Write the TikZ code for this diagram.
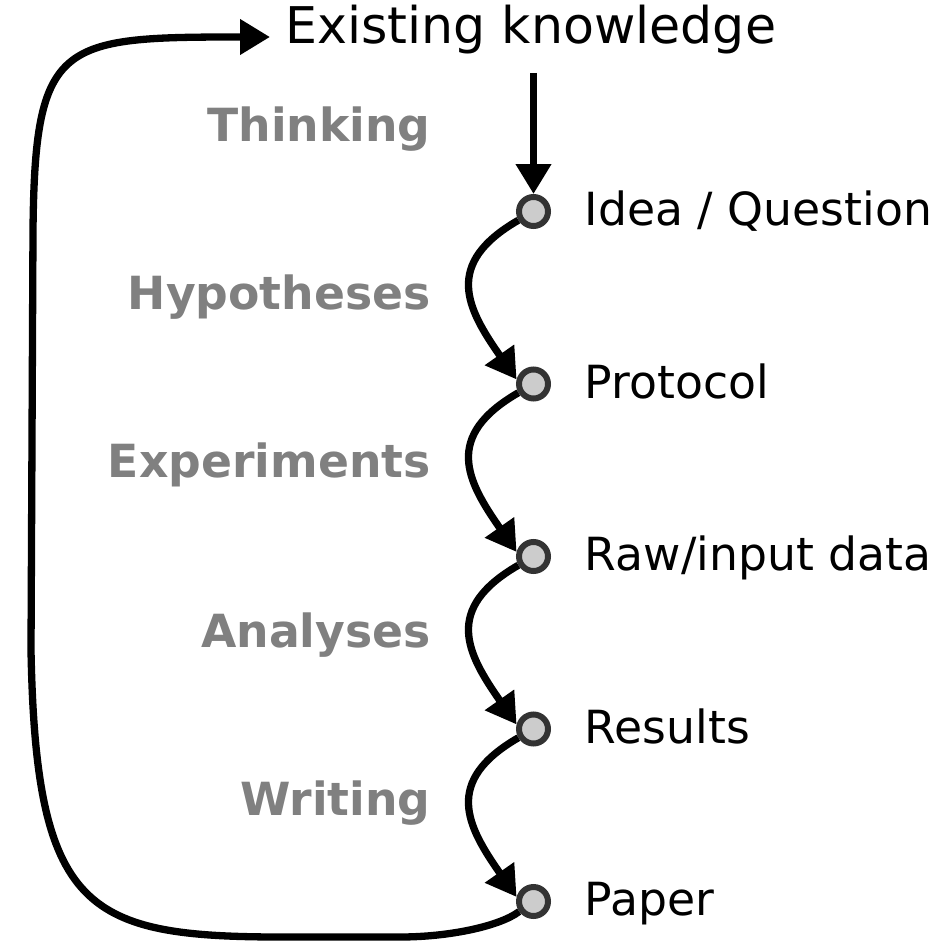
\documentclass[tikz,border=0pt]{standalone}
\usepackage{fontspec}
\setmainfont{DejaVu Sans}
\usetikzlibrary{arrows.meta}
\definecolor{lblgray}{HTML}{808080}
\definecolor{dotfill}{HTML}{CCCCCC}
\definecolor{dotline}{HTML}{333333}
\begin{document}
\begin{tikzpicture}[x=0.02cm,y=0.02cm,
  dot/.style={circle,draw=dotline,fill=dotfill,line width=0.12cm,minimum size=0.58cm,inner sep=0pt},
  stage/.style={anchor=base west,inner sep=0pt,font=\fontsize{26}{30}\selectfont},
  phase/.style={anchor=base east,inner sep=0pt,text=lblgray,font=\bfseries\fontsize{26}{30}\selectfont},
  arr/.style={line width=0.146cm,-{Triangle[length=0.6cm,width=0.68cm]}}]
\useasboundingbox (0,0) rectangle (945,-945);
% top node
\node[anchor=west,inner xsep=0.3cm,inner ysep=0.07cm,text height=0.78cm,text depth=0.5cm,
      font=\fontsize{28.8}{34}\selectfont] (ek) at (270,-37) {Existing knowledge};
% dots
\node[dot] (idea) at (533.5,-211.5) {};
\node[dot] (prot) at (533.5,-384) {};
\node[dot] (raw)  at (533.5,-556.5) {};
\node[dot] (res)  at (533.5,-729) {};
\node[dot] (pap)  at (533.5,-901.5) {};
% stage labels
\node[stage] (tidea) at (584.5,-225.5) {Idea / Question};
\node[stage] (tprot) at (584.5,-398) {Protocol};
\node[stage] (traw)  at (584.5,-570.5) {Raw/input data};
\node[stage] (tres)  at (584.5,-743) {Results};
\node[stage] (tpap)  at (584.5,-915.5) {Paper};
% phase labels
\node[phase] (pthink) at (431,-142) {Thinking};
\node[phase] (phyp)   at (431,-310) {Hypotheses};
\node[phase] (pexp)   at (431,-477) {Experiments};
\node[phase] (pana)   at (431,-647) {Analyses};
\node[phase] (pwri)   at (431,-815) {Writing};
% connectors
\draw[arr] (ek.south -| idea) -- (idea);
\draw[arr] (idea.210) .. controls +(210:87) and +(125:87) .. (prot.165);
\draw[arr] (prot.210) .. controls +(210:87) and +(125:87) .. (raw.165);
\draw[arr] (raw.210) .. controls +(210:87) and +(125:87) .. (res.165);
\draw[arr] (res.210) .. controls +(210:87) and +(125:87) .. (pap.165);
\draw[arr] (pap.215) .. controls (500,-926) and (450,-937) .. (400,-937) -- (300,-937)
  .. controls (90,-938) and (36,-920) .. (31,-650) -- (33,-230)
  .. controls (35,-40) and (60,-37) .. (ek.west);
\end{tikzpicture}
\end{document}
